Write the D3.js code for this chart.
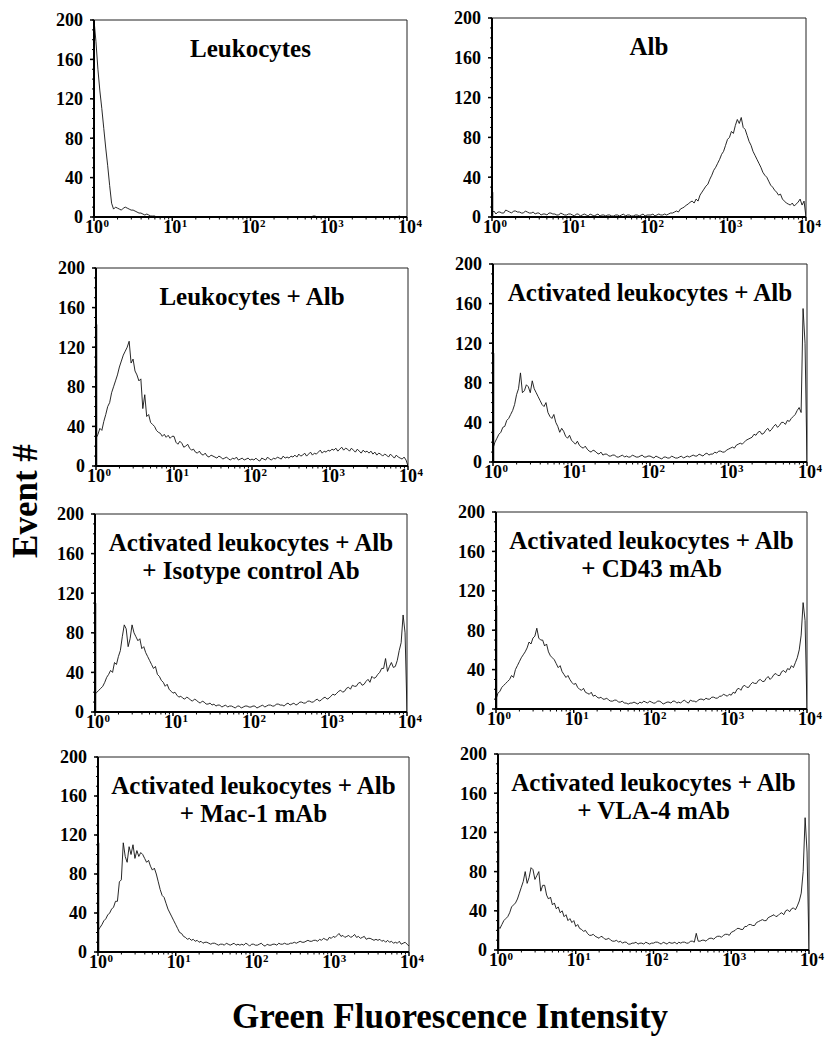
<!DOCTYPE html>
<html>
<head>
<meta charset="utf-8">
<script src="https://cdn.jsdelivr.net/npm/d3@7"></script>
<style>
  body { margin: 0; background: #fff; }
  svg { display: block; }
  text { font-family: "Liberation Serif", "Times New Roman", serif; font-weight: bold; fill: #000; }
</style>
</head>
<body>
<svg id="chart" width="825" height="1039"></svg>
<script>
// channel grid, in decades (10^0 .. 10^4), one value every 0.025 decade
// each row of 20 values below covers half a decade
const channelLog = d3.range(161).map(i => +(i * 0.025).toFixed(3));
const decades = [1, 10, 100, 1000, 10000];
const decadeExp = ['0', '1', '2', '3', '4'];
const yTicks = [0, 40, 80, 120, 160, 200];

const titles = [
  ['Leukocytes'],
  ['Alb'],
  ['Leukocytes + Alb'],
  ['Activated leukocytes + Alb'],
  ['Activated leukocytes + Alb', '+ Isotype control Ab'],
  ['Activated leukocytes + Alb', '+ CD43 mAb'],
  ['Activated leukocytes + Alb', '+ Mac-1 mAb'],
  ['Activated leukocytes + Alb', '+ VLA-4 mAb']
];

// height of the first channel (pile-up at 10^0)
const firstChannel = [0, 25, 143, 110, 110, 105, 112, 112];

const leukocytes = [
  200,178,150,128,110,90,70,52,32,14,8,10,9,8,7,9,10,9,8,7,
  7,6,5,4,4,3,2,3,2,1,1,1,0,0,0,0,0,0,0,0,
  0,0,0,0,0,0,0,0,0,0,0,0,0,0,0,0,0,0,0,0,
  0,0,0,0,0,0,0,0,0,0,0,0,0,0,0,0,0,0,0,0,
  0,0,0,0,0,0,0,0,0,0,0,0,0,0,0,0,0,0,0,0,
  0,0,0,0,0,0,0,0,0,0,0,0,1,1,0,0,0,0,0,0,
  0,0,0,0,0,0,0,0,0,0,0,0,0,0,0,0,0,0,0,0,
  0,0,0,0,0,0,0,0,0,0,0,0,0,0,0,0,1,0,0,0,
  0];

const alb = [
  4,6,3,5,5,4,4,7,6,5,4,6,6,5,5,4,4,6,5,4,
  4,5,3,4,4,2,3,3,2,4,4,3,3,2,2,4,3,2,2,3,
  3,2,1,3,3,1,2,3,2,1,3,2,1,2,3,1,2,2,1,2,
  2,1,1,2,2,1,2,3,1,2,2,1,1,2,2,1,2,3,1,2,
  2,2,3,1,2,3,2,2,3,2,3,4,4,5,6,5,8,9,10,12,
  13,15,16,14,18,16,22,25,28,31,33,38,42,47,50,54,58,63,66,72,
  78,80,86,84,92,98,94,100,90,88,82,76,72,66,62,58,54,50,45,42,
  40,36,32,30,27,25,22,23,18,16,14,13,12,14,11,13,15,18,12,16,
  0];

const leukAlb = [
  28,32,38,36,45,52,60,64,74,80,86,92,100,106,112,116,120,126,104,108,
  96,92,86,88,58,72,50,52,44,42,40,36,34,33,30,32,29,31,28,30,
  30,24,22,25,23,19,20,22,18,16,17,14,13,15,12,11,13,10,9,11,
  10,9,8,10,9,7,8,9,7,6,8,7,9,6,7,8,6,7,8,6,
  7,6,8,6,5,8,7,6,9,7,6,8,7,9,8,7,10,8,9,8,
  10,9,11,9,12,10,11,13,10,12,14,11,13,12,14,16,13,15,14,16,
  15,17,16,18,15,17,19,16,18,17,15,18,16,14,17,15,13,16,14,15,
  13,15,12,14,11,13,12,10,12,11,9,12,10,8,11,9,8,7,9,6,
  0];

const actAlb = [
  14,20,24,28,30,35,36,42,44,48,52,58,68,74,90,70,72,78,76,70,
  82,74,70,66,62,58,56,60,50,46,44,48,40,36,30,34,31,26,24,27,
  22,20,18,21,17,15,14,16,13,11,10,12,11,9,8,10,7,8,8,6,
  6,7,7,5,5,6,7,5,6,5,5,7,6,5,5,6,7,5,5,6,
  6,5,4,6,5,4,3,5,5,4,4,6,5,4,4,5,6,4,5,6,
  5,6,7,6,6,8,7,6,8,9,7,8,8,10,9,11,11,10,10,12,
  13,14,15,14,17,18,19,18,20,22,23,24,25,28,27,30,31,28,29,32,
  34,31,33,36,38,35,37,40,40,38,42,41,44,46,48,52,55,50,155,120,
  0];

const actIsotype = [
  18,20,22,24,26,30,35,38,42,40,50,48,56,62,76,88,84,66,74,88,
  80,76,72,74,64,66,60,56,52,48,44,46,38,36,32,30,26,28,23,21,
  19,20,17,15,16,14,13,15,14,12,11,13,12,10,9,11,10,8,8,9,
  7,8,6,7,7,5,6,7,5,6,6,5,4,6,6,4,5,6,6,5,
  5,6,6,4,5,6,7,5,6,7,7,6,6,8,8,7,7,6,8,9,
  7,8,9,7,8,10,10,9,9,11,11,10,10,12,13,11,12,14,15,13,
  14,16,18,17,19,21,22,20,21,24,25,23,27,26,26,29,30,27,28,31,
  33,30,36,34,35,38,40,44,44,54,41,46,50,45,46,52,62,70,98,80,
  0];

const actCD43 = [
  10,16,18,22,24,26,28,30,34,32,40,44,48,52,55,58,62,68,66,72,
  74,82,72,70,70,64,66,58,54,52,50,46,42,44,38,35,32,34,30,27,
  25,26,22,20,19,21,17,16,15,17,13,14,12,11,12,10,10,11,9,8,
  8,9,9,7,7,8,6,6,5,6,6,7,6,5,7,6,8,7,6,8,
  7,6,6,8,8,7,5,6,7,7,6,8,8,6,7,6,8,9,7,6,
  9,8,8,7,9,10,10,9,11,10,10,12,12,11,11,13,13,15,14,13,
  15,14,17,16,20,21,19,23,24,22,22,25,27,26,26,29,30,28,28,31,
  33,30,32,35,36,34,34,38,39,37,41,40,44,42,47,52,60,75,108,90,
  0];

const actMac1 = [
  22,25,28,32,34,38,40,44,46,52,52,72,74,112,98,92,108,100,110,96,
  104,98,102,100,96,92,94,88,84,86,80,72,64,58,56,50,44,40,36,32,
  28,24,20,19,16,15,13,14,12,13,11,12,10,11,9,10,10,9,8,9,
  9,8,7,8,8,7,9,8,7,8,9,7,8,7,8,7,9,8,6,8,
  8,7,7,8,9,7,6,8,7,7,8,8,7,9,8,8,9,8,8,9,
  9,10,9,10,11,10,10,11,12,11,11,12,12,11,13,12,14,13,12,15,
  14,16,15,17,19,16,17,15,16,17,15,16,18,15,16,14,15,16,13,14,
  14,13,12,13,12,13,11,12,10,12,10,11,9,10,9,11,8,9,10,8,
  6];

const actVLA4 = [
  24,22,26,30,32,34,38,44,46,48,52,58,64,70,80,68,74,84,82,72,
  76,80,60,66,66,56,52,54,46,48,42,44,38,40,34,36,30,32,28,30,
  24,26,22,21,19,20,17,15,15,16,14,13,12,14,13,11,11,12,10,9,
  9,10,8,9,7,8,8,6,6,7,7,8,6,7,7,6,8,7,6,7,
  7,8,8,7,6,8,7,6,8,7,7,8,6,8,7,8,8,7,7,9,
  9,8,17,9,9,10,10,9,11,12,12,11,13,14,14,13,15,16,16,15,
  18,19,20,22,22,21,21,24,24,26,26,25,25,28,29,30,31,30,30,33,
  34,35,36,34,35,37,38,36,40,41,39,42,43,41,45,50,58,80,135,100,
  0];

const series = [leukocytes, alb, leukAlb, actAlb, actIsotype, actCD43, actMac1, actVLA4];

// plot boxes measured on the original figure
const frames = [
  { x: 94,  y: 20,  w: 313, h: 197 },
  { x: 492, y: 18,  w: 314, h: 199 },
  { x: 96,  y: 268, w: 312, h: 198 },
  { x: 493, y: 264, w: 314, h: 198 },
  { x: 95,  y: 514, w: 312, h: 198 },
  { x: 496, y: 512, w: 311, h: 197 },
  { x: 98,  y: 757, w: 311, h: 195 },
  { x: 498, y: 754, w: 311, h: 196 }
];

const svg = d3.select('#chart');
const minorX = [];
for (let d = 1; d < 10000; d *= 10) for (let k = 2; k < 10; k++) minorX.push(d * k);
const minorY = d3.range(0, 201, 10);

frames.forEach((f, p) => {
  const x = d3.scaleLog().domain([1, 10000]).range([0, f.w]);
  const y = d3.scaleLinear().domain([0, 200]).range([f.h, 0]);
  const g = svg.append('g').attr('transform', `translate(${f.x},${f.y})`);

  g.append('clipPath').attr('id', 'clip' + p)
    .append('rect').attr('x', 0).attr('y', 0).attr('width', f.w).attr('height', f.h);

  // top and right border
  g.append('path')
    .attr('d', `M0,0H${f.w}V${f.h}`)
    .attr('fill', 'none').attr('stroke', '#222').attr('stroke-width', 1);

  // histogram trace
  const line = d3.line()
    .x((d, i) => x(Math.pow(10, channelLog[i])))
    .y(d => y(d));
  g.append('path')
    .datum(series[p])
    .attr('clip-path', `url(#clip${p})`)
    .attr('d', line)
    .attr('fill', 'none').attr('stroke', '#111').attr('stroke-width', 0.9);

  // first-channel pile-up
  if (firstChannel[p] > 0) {
    g.append('line')
      .attr('x1', x(1) + 0.5).attr('x2', x(1) + 0.5)
      .attr('y1', y(0)).attr('y2', y(firstChannel[p]))
      .attr('stroke', '#000').attr('stroke-width', 1.5);
  }

  // y axis
  g.append('line').attr('x1', 0).attr('x2', 0).attr('y1', 0).attr('y2', f.h)
    .attr('stroke', '#000').attr('stroke-width', 2);
  g.selectAll('.ymin').data(minorY).enter().append('line')
    .attr('x1', -2).attr('x2', 0).attr('y1', d => y(d)).attr('y2', d => y(d))
    .attr('stroke', '#000').attr('stroke-width', 1);
  g.selectAll('.ymaj').data(yTicks).enter().append('line')
    .attr('x1', -4).attr('x2', 0).attr('y1', d => y(d)).attr('y2', d => y(d))
    .attr('stroke', '#000').attr('stroke-width', 1.5);
  g.selectAll('.ylab').data(yTicks).enter().append('text')
    .attr('x', -11).attr('y', d => y(d)).attr('dy', '0.35em')
    .attr('text-anchor', 'end').style('font-size', '18px')
    .text(d => d);

  // x axis
  g.append('line').attr('x1', 0).attr('x2', f.w).attr('y1', f.h).attr('y2', f.h)
    .attr('stroke', '#000').attr('stroke-width', 2);
  g.selectAll('.xmin').data(minorX).enter().append('line')
    .attr('x1', d => x(d)).attr('x2', d => x(d)).attr('y1', f.h).attr('y2', f.h + 2.5)
    .attr('stroke', '#000').attr('stroke-width', 1);
  g.selectAll('.xmaj').data(decades).enter().append('line')
    .attr('x1', d => x(d)).attr('x2', d => x(d)).attr('y1', f.h).attr('y2', f.h + 4)
    .attr('stroke', '#000').attr('stroke-width', 1.5);
  const xl = g.selectAll('.xlab').data(decades).enter().append('g')
    .attr('transform', d => `translate(${x(d)},${f.h})`);
  xl.append('text').attr('x', 0).attr('y', 16)
    .attr('text-anchor', 'middle').style('font-size', '18px').text('10');
  xl.append('text').attr('x', 9.5).attr('y', 10)
    .style('font-size', '11px').text((d, i) => decadeExp[i]);

  // panel title
  titles[p].forEach((t, k) => {
    g.append('text')
      .attr('x', f.w / 2).attr('y', 37 + k * 28)
      .attr('text-anchor', 'middle').style('font-size', '25px')
      .text(t);
  });
});

// shared axis titles
svg.append('text')
  .attr('transform', 'translate(37,501) rotate(-90)')
  .attr('text-anchor', 'middle').style('font-size', '35px')
  .text('Event #');

svg.append('text')
  .attr('x', 450).attr('y', 1028)
  .attr('text-anchor', 'middle').style('font-size', '35px')
  .text('Green Fluorescence Intensity');
</script>
</body>
</html>
